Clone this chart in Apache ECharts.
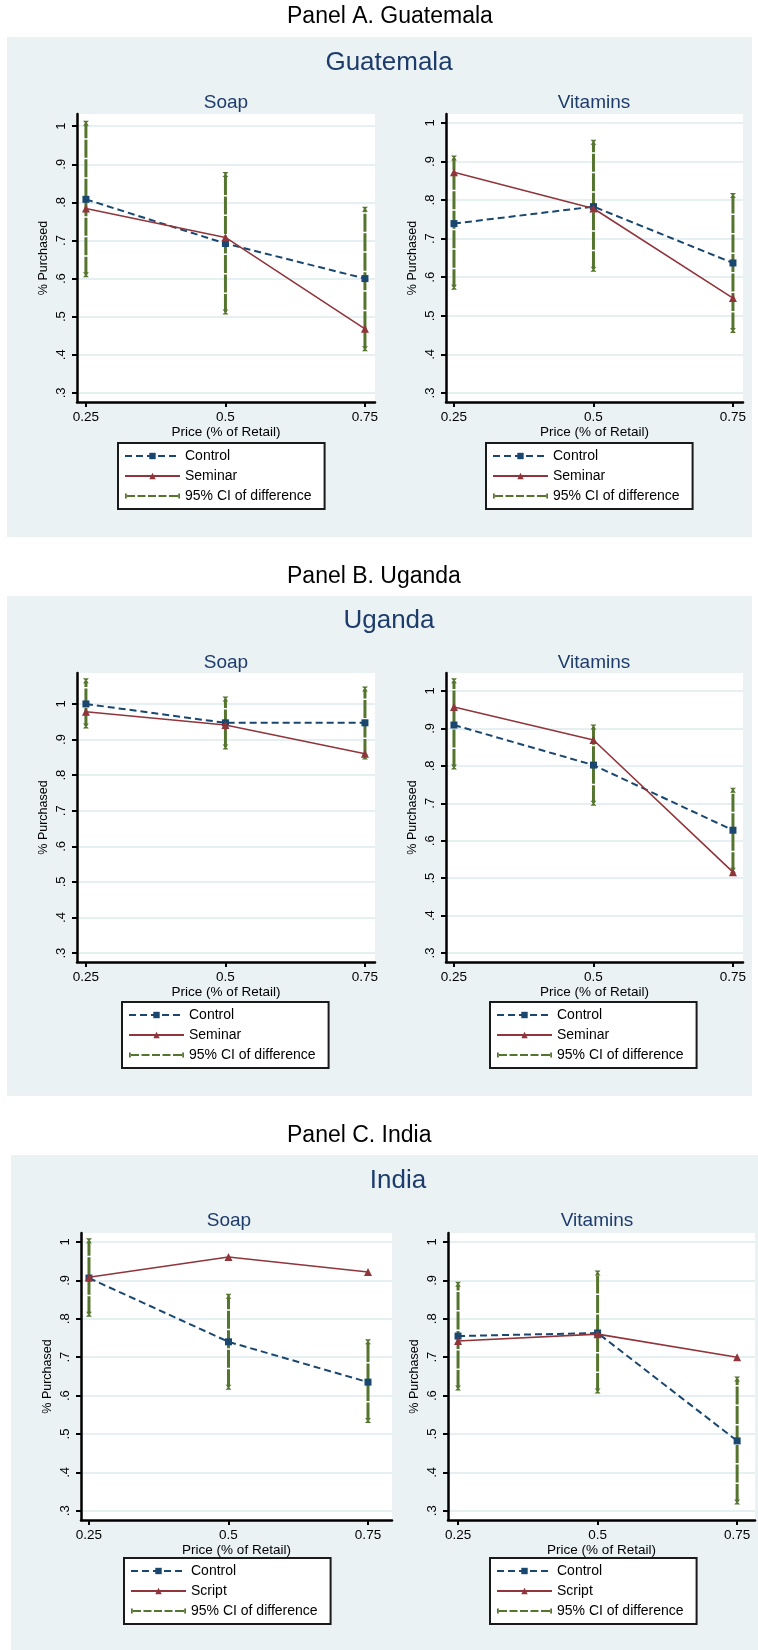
<!DOCTYPE html>
<html><head><meta charset="utf-8">
<script src="https://cdn.jsdelivr.net/npm/echarts@6/dist/echarts.min.js"></script>
<style>html,body{margin:0;padding:0;background:#fff}#c{width:758px;height:1650px}</style>
</head><body><div id="c"></div>
<script>
// ---------- data ----------
const prices = [0.25, 0.5, 0.75];
const xTickValues = [0.25, 0.5, 0.75];
const xTickLabels = ['0.25', '0.5', '0.75'];
const yTickValues = [0.3, 0.4, 0.5, 0.6, 0.7, 0.8, 0.9, 1];
const yTickLabels = ['.3', '.4', '.5', '.6', '.7', '.8', '.9', '1'];

const guaSoapControl = [0.808, 0.692, 0.600];
const guaSoapSeminar = [0.784, 0.708, 0.468];
const guaSoapCILow   = [0.610, 0.512, 0.416];
const guaSoapCIHigh  = [1.008, 0.873, 0.782];
const guaVitControl  = [0.739, 0.783, 0.637];
const guaVitSeminar  = [0.872, 0.778, 0.546];
const guaVitCILow    = [0.574, 0.621, 0.462];
const guaVitCIHigh   = [0.909, 0.950, 0.812];

const ugaSoapControl = [1.000, 0.947, 0.947];
const ugaSoapSeminar = [0.978, 0.941, 0.860];
const ugaSoapCILow   = [0.938, 0.879, 0.851];
const ugaSoapCIHigh  = [1.065, 1.014, 1.042];
const ugaVitControl  = [0.909, 0.802, 0.628];
const ugaVitSeminar  = [0.957, 0.869, 0.516];
const ugaVitCILow    = [0.797, 0.700, 0.521];
const ugaVitCIHigh   = [1.027, 0.904, 0.735];

const indSoapControl = [0.906, 0.740, 0.635];
const indSoapScript  = [0.908, 0.961, 0.922];
const indSoapCILow   = [0.812, 0.622, 0.535];
const indSoapCIHigh  = [1.003, 0.859, 0.740];
const indVitControl  = [0.755, 0.763, 0.482];
const indVitScript   = [0.742, 0.760, 0.700];
const indVitCILow    = [0.620, 0.612, 0.323];
const indVitCIHigh   = [0.890, 0.919, 0.643];

const panelTitles = ['Panel A. Guatemala', 'Panel B. Uganda', 'Panel C. India'];
const countryTitles = ['Guatemala', 'Uganda', 'India'];
const productTitles = ['Soap', 'Vitamins'];
const ciName = '95% CI of difference';

// ---------- layout / style ----------
const W = 758, H = 1650;
const FONT = '"Liberation Sans", Arial, Helvetica, sans-serif';
const NAVY = '#1a476f', MAROON = '#90353b', GREEN = '#55752f';
const BG = '#eaf2f3', GRID = '#e6eff1', TITLE = '#1e3c6b';

const panels = [
  {box: [7, 37, 745, 500], panelTitleY: 17, countryX: 389, countryY: 63},
  {box: [7, 596, 745, 500], panelTitleY: 577, countryX: 389, countryY: 621},
  {box: [11, 1155, 747, 495], panelTitleY: 1136, countryX: 398, countryY: 1181}
];

const subplots = [
  {p: 0, prod: 0, control: guaSoapControl, treat: guaSoapSeminar, treatName: 'Seminar', lo: guaSoapCILow, hi: guaSoapCIHigh,
   l: 77, r: 375, t: 114, b: 402, xMin: 0.234, xMax: 0.768, yMin: 0.276, yMax: 1.032, titleX: 226, titleY: 103, legL: 118, legT: 443},
  {p: 0, prod: 1, control: guaVitControl, treat: guaVitSeminar, treatName: 'Seminar', lo: guaVitCILow, hi: guaVitCIHigh,
   l: 446, r: 743, t: 114, b: 402, xMin: 0.2357, xMax: 0.768, yMin: 0.2767, yMax: 1.023, titleX: 594, titleY: 103, legL: 486, legT: 443},
  {p: 1, prod: 0, control: ugaSoapControl, treat: ugaSoapSeminar, treatName: 'Seminar', lo: ugaSoapCILow, hi: ugaSoapCIHigh,
   l: 77, r: 375, t: 673, b: 962, xMin: 0.234, xMax: 0.768, yMin: 0.275, yMax: 1.087, titleX: 226, titleY: 663, legL: 122, legT: 1002},
  {p: 1, prod: 1, control: ugaVitControl, treat: ugaVitSeminar, treatName: 'Seminar', lo: ugaVitCILow, hi: ugaVitCIHigh,
   l: 446, r: 743, t: 673, b: 962, xMin: 0.2357, xMax: 0.768, yMin: 0.276, yMax: 1.048, titleX: 594, titleY: 663, legL: 490, legT: 1002},
  {p: 2, prod: 0, control: indSoapControl, treat: indSoapScript, treatName: 'Script', lo: indSoapCILow, hi: indSoapCIHigh,
   l: 81, r: 392, t: 1233, b: 1520, xMin: 0.2357, xMax: 0.793, yMin: 0.276, yMax: 1.0234, titleX: 229, titleY: 1221, legL: 124, legT: 1558},
  {p: 2, prod: 1, control: indVitControl, treat: indVitScript, treatName: 'Script', lo: indVitCILow, hi: indVitCIHigh,
   l: 448, r: 755, t: 1233, b: 1520, xMin: 0.232, xMax: 0.782, yMin: 0.276, yMax: 1.0234, titleX: 597, titleY: 1221, legL: 490, legT: 1558}
];

// legend icon for CI: dashed green bar with end caps (55 x 8 box)
const ciIcon = 'path://M0,0 L55,0 L55,0.01 L0,0.01 Z M0,7.99 L55,7.99 L55,8 L0,8 Z ' +
  'M0,1.5 L1.8,1.5 L1.8,6.5 L0,6.5 Z M53.2,1.5 L55,1.5 L55,6.5 L53.2,6.5 Z ' +
  'M2,2.9 L10,2.9 L10,5.1 L2,5.1 Z M12.5,2.9 L20.5,2.9 L20.5,5.1 L12.5,5.1 Z M23,2.9 L31,2.9 L31,5.1 L23,5.1 Z ' +
  'M33.5,2.9 L41.5,2.9 L41.5,5.1 L33.5,5.1 Z M44,2.9 L53,2.9 L53,5.1 L44,5.1 Z';
const capSymbol = 'path://M0,0 L10,0 L6,5 L10,10 L0,10 L4,5 Z';

function pairs(vals) { return prices.map((p, i) => [p, vals[i]]); }
function ciData(lo, hi) {
  const d = [];
  prices.forEach((p, i) => { d.push([p, lo[i]]); d.push([p, hi[i]]); d.push([p, '-']); });
  return d;
}
function tickLabel(list, labels, v) {
  const i = list.findIndex(t => Math.abs(t - v) < 1e-6);
  return i >= 0 ? labels[i] : '';
}

const graphic = [];
panels.forEach((pn, i) => {
  graphic.push({type: 'rect', z: -100, silent: true, shape: {x: pn.box[0], y: pn.box[1], width: pn.box[2], height: pn.box[3]}, style: {fill: BG}});
  graphic.push({type: 'text', z: 100, silent: true, x: 287, y: pn.panelTitleY,
    style: {text: panelTitles[i], font: '23px ' + FONT, fill: '#000', textAlign: 'left', textVerticalAlign: 'middle'}});
  graphic.push({type: 'text', z: 100, silent: true, x: pn.countryX, y: pn.countryY,
    style: {text: countryTitles[i], font: '26px ' + FONT, fill: TITLE, textAlign: 'center', textVerticalAlign: 'middle'}});
});

const grid = [], xAxis = [], yAxis = [], series = [], legend = [];
subplots.forEach((sp, i) => {
  graphic.push({type: 'text', z: 100, silent: true, x: sp.titleX, y: sp.titleY,
    style: {text: productTitles[sp.prod], font: '19px ' + FONT, fill: TITLE, textAlign: 'center', textVerticalAlign: 'middle'}});
  grid.push({left: sp.l, top: sp.t, width: sp.r - sp.l, height: sp.b - sp.t, show: true, backgroundColor: '#fff', borderWidth: 0, containLabel: false});
  xAxis.push({
    type: 'value', gridIndex: i, min: sp.xMin, max: sp.xMax,
    axisLine: {show: true, onZero: false, lineStyle: {color: '#000', width: 2.5}},
    axisTick: {show: true, length: 5, lineStyle: {color: '#000', width: 2}, customValues: xTickValues},
    axisLabel: {customValues: xTickValues, margin: 8, fontSize: 13.5, color: '#000', fontFamily: FONT,
      formatter: v => tickLabel(xTickValues, xTickLabels, v)},
    splitLine: {show: false},
    name: 'Price (% of Retail)', nameLocation: 'middle', nameGap: 21,
    nameTextStyle: {fontSize: 13.5, color: '#000', fontFamily: FONT}
  });
  yAxis.push({
    type: 'value', gridIndex: i, min: sp.yMin, max: sp.yMax,
    axisLine: {show: true, onZero: false, lineStyle: {color: '#000', width: 2.5}},
    axisTick: {show: true, length: 5, lineStyle: {color: '#000', width: 2}, customValues: yTickValues},
    axisLabel: {customValues: yTickValues, rotate: 90, margin: 9, fontSize: 13, color: '#000', fontFamily: FONT,
      formatter: v => tickLabel(yTickValues, yTickLabels, v)},
    splitLine: {show: true, lineStyle: {color: GRID, width: 2}},
    name: '% Purchased', nameLocation: 'middle', nameGap: 27, nameRotate: 90,
    nameTextStyle: {fontSize: 12.5, color: '#000', fontFamily: FONT}
  });
  series.push({
    name: ciName, type: 'line', xAxisIndex: i, yAxisIndex: i, data: ciData(sp.lo, sp.hi),
    connectNulls: false, symbol: capSymbol, symbolSize: [6, 5], showSymbol: true,
    itemStyle: {color: GREEN}, lineStyle: {color: GREEN, width: 3, type: [18, 1.5]}, z: 2
  });
  series.push({
    name: 'Control', type: 'line', xAxisIndex: i, yAxisIndex: i, data: pairs(sp.control),
    symbol: 'rect', symbolSize: 7, itemStyle: {color: NAVY},
    lineStyle: {color: NAVY, width: 2, type: [7, 4]}, z: 3
  });
  series.push({
    name: sp.treatName, type: 'line', xAxisIndex: i, yAxisIndex: i, data: pairs(sp.treat),
    symbol: 'triangle', symbolSize: 8, itemStyle: {color: MAROON},
    lineStyle: {color: MAROON, width: 1.6, type: 'solid'}, z: 4
  });
  legend.push({
    left: sp.legL, top: sp.legT, orient: 'vertical', backgroundColor: '#fff', borderColor: '#1a1a1a', borderWidth: 2,
    borderRadius: 0, padding: [5, 13, 5, 6], itemWidth: 55, itemHeight: 8, itemGap: 4, itemTextGap: 11,
    selectedMode: false, textStyle: {fontFamily: FONT, fontSize: 14, color: '#000', lineHeight: 16},
    data: ['Control', sp.treatName, {name: ciName, icon: ciIcon, itemStyle: {color: GREEN, borderWidth: 0}}]
  });
});

const chart = echarts.init(document.getElementById('c'), null, {renderer: 'canvas', width: W, height: H});
chart.setOption({
  animation: false,
  backgroundColor: '#fff',
  graphic: graphic,
  grid: grid, xAxis: xAxis, yAxis: yAxis, series: series, legend: legend
});
</script></body></html>
